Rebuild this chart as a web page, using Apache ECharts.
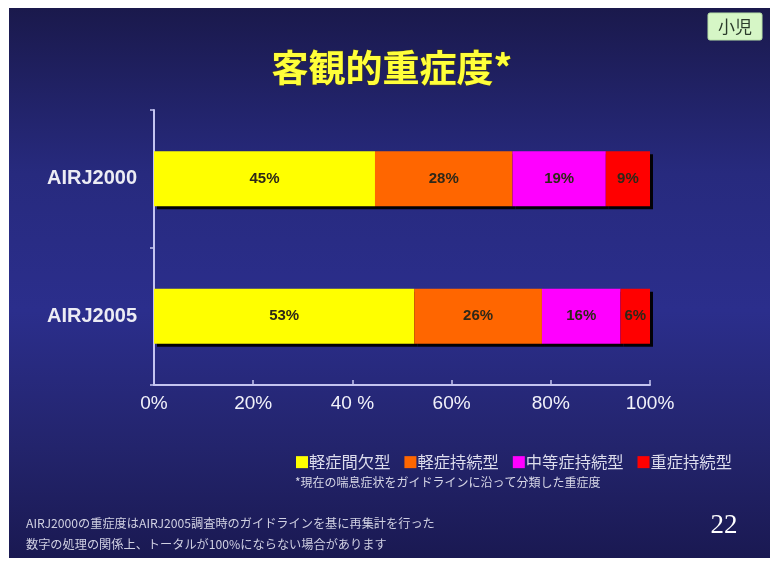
<!DOCTYPE html>
<html>
<head>
<meta charset="utf-8">
<style>
  html, body { margin: 0; padding: 0; background: #ffffff; }
  #chart { width: 770px; height: 562px; }
</style>
<script src="https://cdn.jsdelivr.net/npm/echarts@6/dist/echarts.min.js"></script>
</head>
<body>
<div id="chart"></div>
<script>
// Survey rounds (rows) and severity groups (stacked segments)
const categories = ['AIRJ2000', 'AIRJ2005'];
const severityNames = ['軽症間欠型', '軽症持続型', '中等症持続型', '重症持続型'];
const severityColors = ['#ffff00', '#ff6600', '#ff00ff', '#ff0000'];

// Percentages per severity group, one entry per survey round
const mildIntermittent = [45, 53];
const mildPersistent = [28, 26];
const moderatePersistent = [19, 16];
const severePersistent = [9, 6];

const xTickLabels = ['0%', '20%', '40 %', '60%', '80%', '100%'];

const seriesValues = [mildIntermittent, mildPersistent, moderatePersistent, severePersistent];

// Rounded figures may not add up to 100, so each bar is scaled to its own total
const rowTotals = categories.map((_, i) => seriesValues.reduce((s, arr) => s + arr[i], 0));

const FONT = '"Liberation Sans", Arial, "Noto Sans CJK JP", sans-serif';
const JP = '"Noto Sans CJK JP", "Liberation Sans", sans-serif';

const chart = echarts.init(document.getElementById('chart'), null, { renderer: 'canvas' });

const series = seriesValues.map((vals, k) => ({
  name: severityNames[k],
  type: 'bar',
  stack: 'severity',
  barWidth: '40%',
  data: vals.map((v, i) => ({ value: v / rowTotals[i] * 100, raw: v })),
  itemStyle: {
    color: severityColors[k],
    shadowColor: 'rgba(0,0,0,0.95)',
    shadowOffsetX: 3,
    shadowOffsetY: 3,
    shadowBlur: 0
  },
  label: {
    show: true,
    position: 'inside',
    formatter: p => p.data.raw + '%',
    color: '#2e2818',
    fontSize: 15,
    fontWeight: 'bold',
    fontFamily: FONT
  },
  emphasis: { disabled: true }
}));

chart.setOption({
  animation: false,
  backgroundColor: '#ffffff',
  grid: { left: 154, right: 120, top: 110, bottom: 177, containLabel: false },
  xAxis: {
    type: 'value',
    min: 0,
    max: 100,
    interval: 20,
    axisLine: { show: true, lineStyle: { color: '#c4c4f0', width: 2 } },
    axisTick: { show: true, inside: true, length: 5, lineStyle: { color: '#c4c4f0', width: 1.5 } },
    splitLine: { show: false },
    axisLabel: {
      color: '#f2f2fa',
      fontSize: 19,
      fontFamily: FONT,
      margin: 9,
      formatter: (v) => xTickLabels[Math.round(v / 20)]
    }
  },
  yAxis: {
    type: 'category',
    inverse: true,
    data: categories,
    axisLine: { show: true, lineStyle: { color: '#c4c4f0', width: 2 } },
    axisTick: { show: true, length: 4, lineStyle: { color: '#c4c4f0', width: 1.5 } },
    axisLabel: {
      color: '#ececf4',
      fontSize: 20,
      fontWeight: 'bold',
      fontFamily: FONT,
      margin: 17
    }
  },
  legend: {
    data: severityNames,
    left: 291,
    top: 449,
    icon: 'rect',
    itemWidth: 12,
    itemHeight: 12,
    itemGap: 14,
    selectedMode: false,
    textStyle: { color: '#dcdcec', fontSize: 16.3, fontFamily: JP, padding: [0, 0, 0, -4] }
  },
  graphic: [
    {
      type: 'rect', z: -100, silent: true,
      shape: { x: 9, y: 8, width: 761, height: 550 },
      style: {
        fill: new echarts.graphic.LinearGradient(0, 0, 0, 1, [
          { offset: 0, color: '#1a194c' },
          { offset: 0.3, color: '#272a7e' },
          { offset: 0.55, color: '#2b2e8c' },
          { offset: 0.8, color: '#23246c' },
          { offset: 1, color: '#1a1952' }
        ])
      }
    },
    {
      type: 'text', z: 10, silent: true,
      x: 392, y: 68,
      style: {
        text: '客観的重症度*',
        fill: '#ffff3a',
        stroke: '#5a5200',
        lineWidth: 0.6,
        font: 'bold 37px ' + JP,
        textAlign: 'center',
        textVerticalAlign: 'middle'
      }
    },
    {
      type: 'rect', z: 10, silent: true,
      shape: { x: 708, y: 13, width: 54, height: 27, r: 2 },
      style: { fill: '#d6f6c6', stroke: '#b8e0a8', lineWidth: 1 }
    },
    {
      type: 'text', z: 11, silent: true,
      x: 735, y: 27,
      style: {
        text: '小児',
        fill: '#2a3a2a',
        font: '17px ' + JP,
        textAlign: 'center',
        textVerticalAlign: 'middle'
      }
    },
    {
      type: 'text', z: 10, silent: true,
      x: 295, y: 482,
      style: {
        text: '*現在の喘息症状をガイドラインに沿って分類した重症度',
        fill: '#d6d6e6',
        font: '12px ' + JP,
        textVerticalAlign: 'middle'
      }
    },
    {
      type: 'text', z: 10, silent: true,
      x: 26, y: 523,
      style: {
        text: 'AIRJ2000の重症度はAIRJ2005調査時のガイドラインを基に再集計を行った',
        fill: '#d0d0e2',
        font: '12.2px ' + JP,
        textVerticalAlign: 'middle'
      }
    },
    {
      type: 'text', z: 10, silent: true,
      x: 26, y: 544,
      style: {
        text: '数字の処理の関係上、トータルが100%にならない場合があります',
        fill: '#d0d0e2',
        font: '12.2px ' + JP,
        textVerticalAlign: 'middle'
      }
    },
    {
      type: 'text', z: 10, silent: true,
      x: 724, y: 526,
      style: {
        text: '22',
        fill: '#ffffff',
        font: '27px "Liberation Serif", "DejaVu Serif", serif',
        textAlign: 'center',
        textVerticalAlign: 'middle'
      }
    }
  ],
  series: series
});
</script>
</body>
</html>
